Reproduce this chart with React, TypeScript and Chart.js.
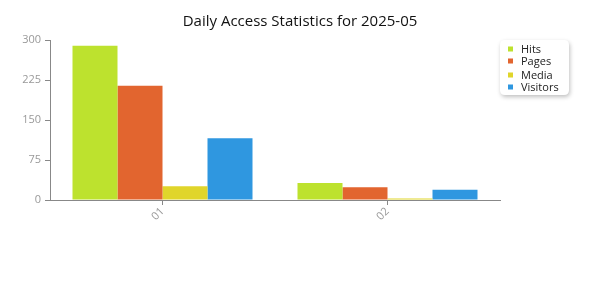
import React, { useEffect, useRef } from "react";
import { Chart, registerables } from "chart.js";

Chart.register(...registerables);

const TITLE = "Daily Access Statistics for 2025-05";
const categories = ["01", "02"];
const seriesNames = ["Hits", "Pages", "Media", "Visitors"];
const hits = [289, 32];
const pages = [214, 24];
const media = [26, 3];
const visitors = [116, 19];
const seriesColors = ["#bde22e", "#e2652f", "#e0d52b", "#2f97e0"];
const yTicks = [0, 75, 150, 225, 300];

const FONT = "'Open Sans', 'Noto Sans', sans-serif";

const overlayPlugin = {
  id: "overlay",
  afterDraw(chart: any) {
    const ctx = chart.ctx as CanvasRenderingContext2D;
    ctx.save();
    // title
    ctx.fillStyle = "#111";
    ctx.font = `15px ${FONT}`;
    ctx.textAlign = "center";
    ctx.textBaseline = "middle";
    ctx.fillText(TITLE, 300, 22);
    // legend box
    const bx = 500, by = 40, bw = 69, bh = 55, r = 5;
    ctx.save();
    ctx.shadowColor = "rgba(0,0,0,0.25)";
    ctx.shadowBlur = 4;
    ctx.shadowOffsetX = 1;
    ctx.shadowOffsetY = 2;
    ctx.fillStyle = "#ffffff";
    ctx.beginPath();
    ctx.moveTo(bx + r, by);
    ctx.lineTo(bx + bw - r, by);
    ctx.quadraticCurveTo(bx + bw, by, bx + bw, by + r);
    ctx.lineTo(bx + bw, by + bh - r);
    ctx.quadraticCurveTo(bx + bw, by + bh, bx + bw - r, by + bh);
    ctx.lineTo(bx + r, by + bh);
    ctx.quadraticCurveTo(bx, by + bh, bx, by + bh - r);
    ctx.lineTo(bx, by + r);
    ctx.quadraticCurveTo(bx, by, bx + r, by);
    ctx.closePath();
    ctx.fill();
    ctx.restore();
    const ys = [49, 61, 75, 87];
    ctx.font = `11px ${FONT}`;
    ctx.textAlign = "left";
    ctx.textBaseline = "middle";
    chart.data.datasets.forEach((ds: any, i: number) => {
      ctx.fillStyle = ds.backgroundColor;
      ctx.fillRect(508, ys[i] - 2.5, 5, 5);
      ctx.fillStyle = "#222";
      ctx.fillText(ds.label, 521, ys[i] + 0.5);
    });
    ctx.restore();
  },
};

export default function App() {
  const ref = useRef<HTMLCanvasElement>(null);
  useEffect(() => {
    document.body.style.margin = "0";
    const values = [hits, pages, media, visitors];
    const chart = new Chart(ref.current!, {
      type: "bar",
      data: {
        labels: categories,
        datasets: seriesNames.map((name, i) => ({
          label: name,
          data: values[i],
          backgroundColor: seriesColors[i],
          borderWidth: 0,
          categoryPercentage: 0.8,
          barPercentage: 1.0,
        })),
      },
      options: {
        animation: false,
        responsive: false,
        maintainAspectRatio: false,
        layout: { padding: { top: 40, right: 100, left: 0, bottom: 0 } },
        plugins: {
          legend: { display: false },
          title: { display: false },
          tooltip: { enabled: false },
        },
        scales: {
          x: {
            afterFit: (s: any) => {
              s.height = 100;
            },
            grid: {
              offset: false,
              drawOnChartArea: false,
              drawTicks: true,
              tickLength: 5,
              color: "#888",
            },
            border: { display: true, color: "#888", width: 1 },
            ticks: {
              color: "#999",
              font: { family: FONT, size: 11 },
              minRotation: 45,
              maxRotation: 45,
              padding: 0,
            },
          },
          y: {
            min: 0,
            max: 300,
            afterFit: (s: any) => {
              s.width = 50;
            },
            afterBuildTicks: (s: any) => {
              s.ticks = yTicks.map((v) => ({ value: v }));
            },
            grid: {
              drawOnChartArea: false,
              drawTicks: true,
              tickLength: 5,
              color: "#888",
            },
            border: { display: true, color: "#888", width: 1 },
            ticks: {
              color: "#999",
              font: { family: FONT, size: 11 },
              padding: 4,
            },
          },
        },
      },
      plugins: [overlayPlugin],
    });
    return () => chart.destroy();
  }, []);
  return <canvas ref={ref} width={600} height={300} style={{ display: "block" }} />;
}
